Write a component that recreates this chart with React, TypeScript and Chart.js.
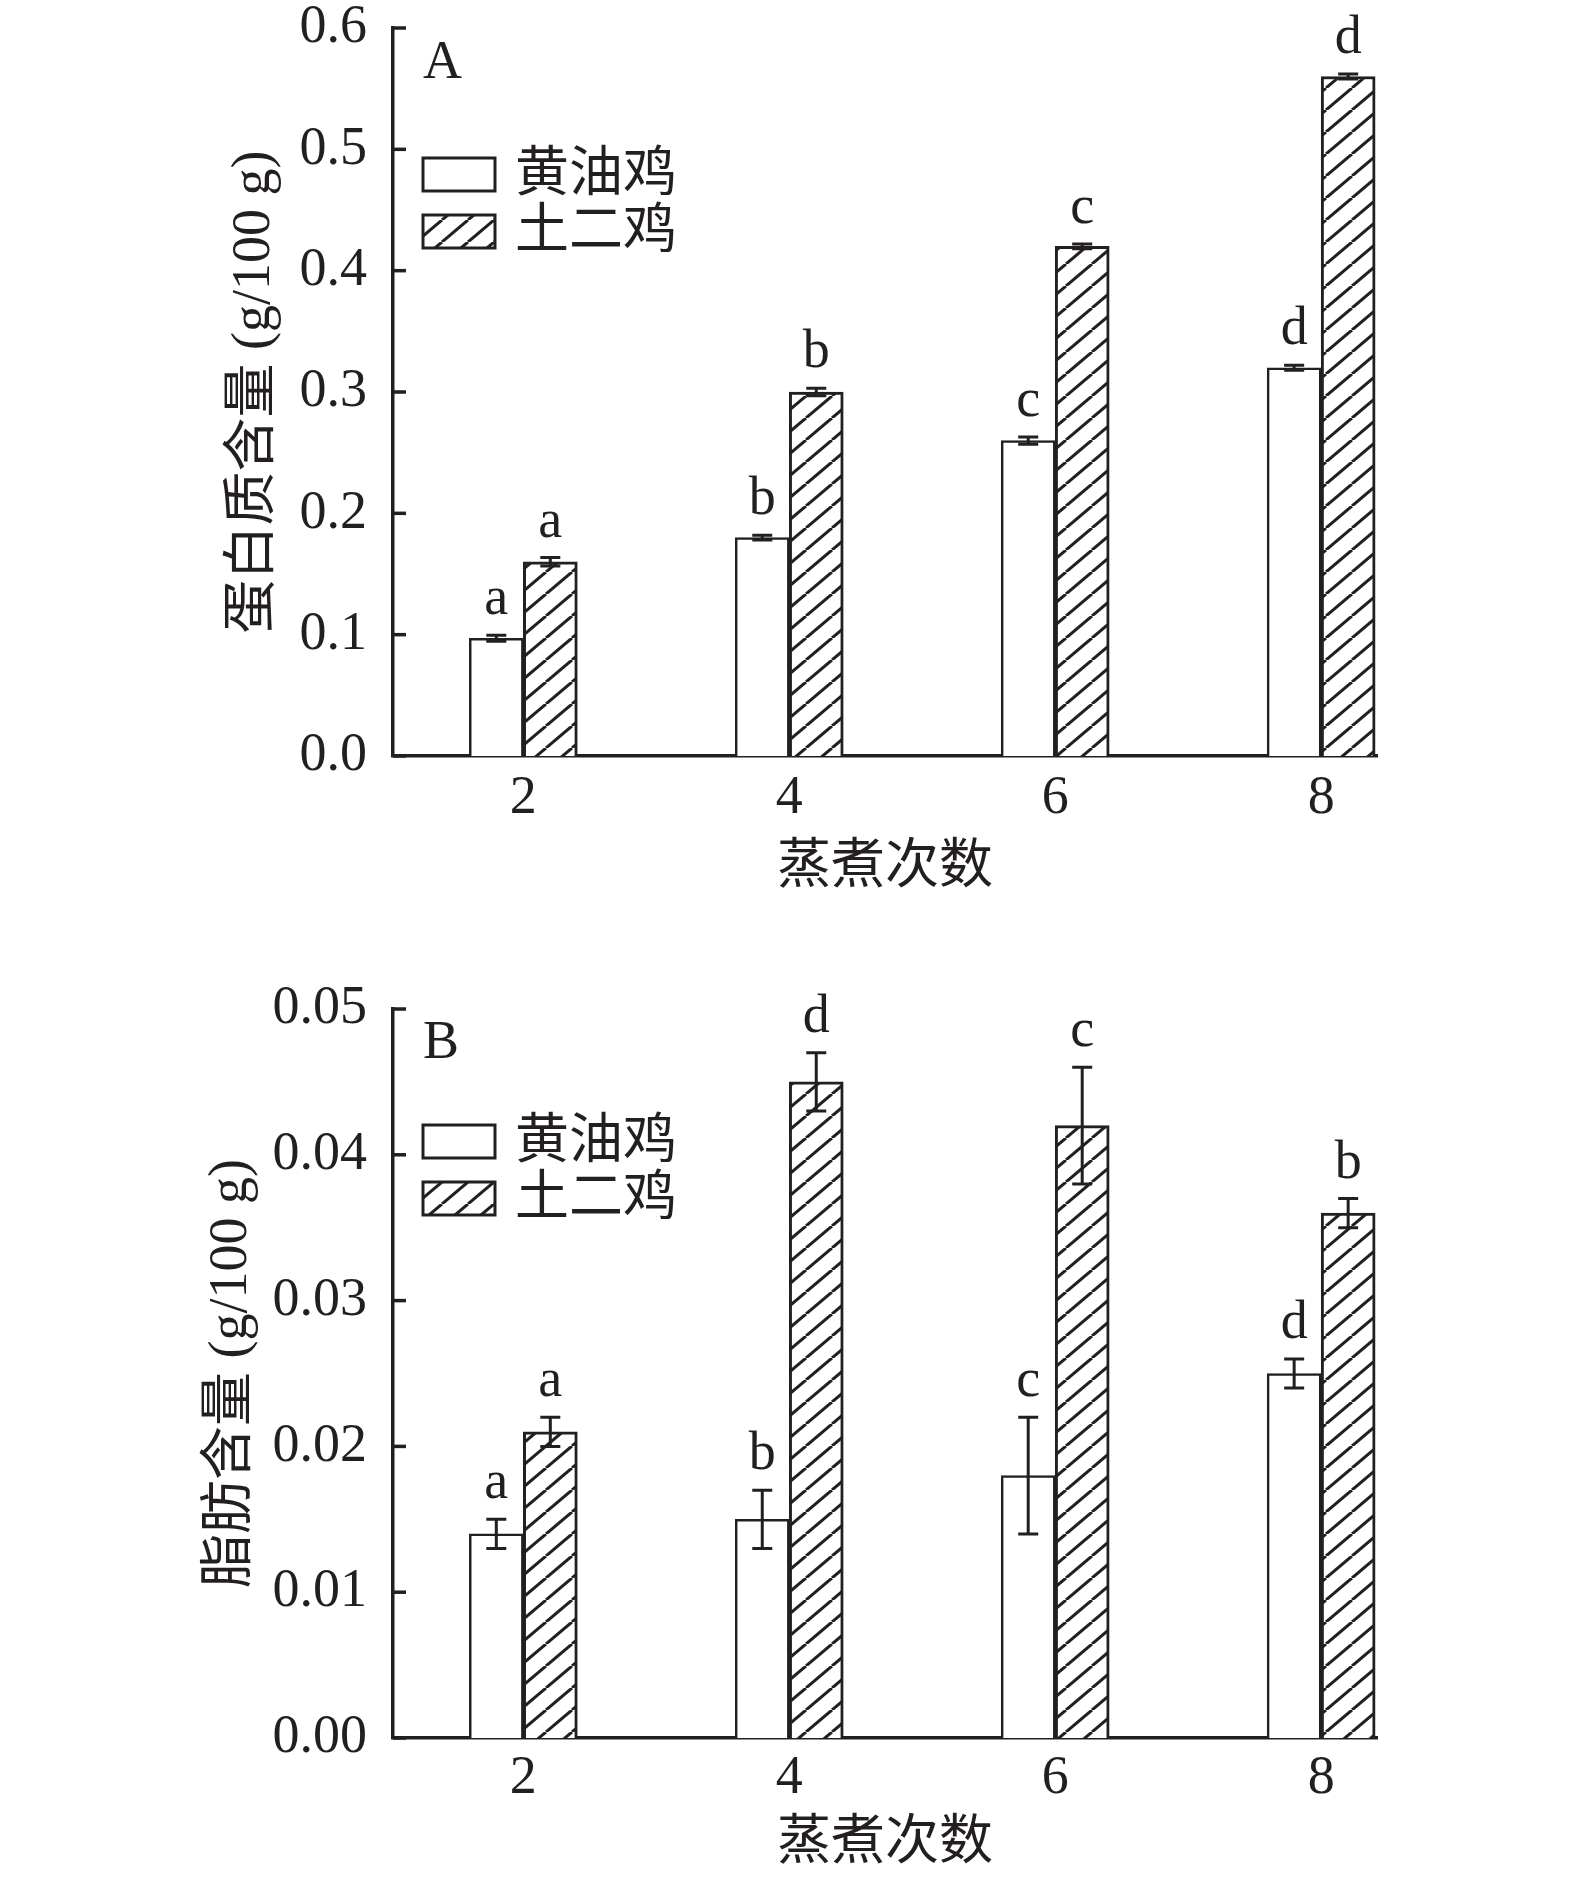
import React, { useEffect, useRef } from 'react';
import { Chart, registerables } from 'chart.js';

Chart.register(...registerables);

// ---------------- data ----------------
const categories = [2, 4, 6, 8];
const seriesNames = ['黄油鸡', '土二鸡'];

const proteinYellow = [0.097, 0.18, 0.26, 0.32];
const proteinYellowErr = [0.0025, 0.002, 0.003, 0.002];
const proteinTuer = [0.16, 0.3, 0.42, 0.56];
const proteinTuerErr = [0.0035, 0.003, 0.002, 0.002];
const proteinYellowLetters = ['a', 'b', 'c', 'd'];
const proteinTuerLetters = ['a', 'b', 'c', 'd'];
const proteinTicks = [0, 0.1, 0.2, 0.3, 0.4, 0.5, 0.6];

const fatYellow = [0.014, 0.015, 0.018, 0.025];
const fatYellowErr = [0.001, 0.002, 0.004, 0.001];
const fatTuer = [0.021, 0.045, 0.042, 0.036];
const fatTuerErr = [0.001, 0.002, 0.004, 0.001];
const fatYellowLetters = ['a', 'b', 'c', 'd'];
const fatTuerLetters = ['a', 'd', 'c', 'b'];
const fatTicks = [0, 0.01, 0.02, 0.03, 0.04, 0.05];

const xTitle = '蒸煮次数';
const proteinTitle = '蛋白质含量 (g/100 g)';
const fatTitle = '脂肪含量 (g/100 g)';

// ---------------- style ----------------
const INK = '#231f20';
const FAMILY = '"Liberation Serif", "Noto Sans CJK SC", serif';
const FS = 54;
const FONT = `${FS}px ${FAMILY}`;
const W = 1575;
const H = 940;

function makeHatch(): CanvasPattern | string {
  const w = 26, h = 22;
  const c = document.createElement('canvas');
  c.width = w;
  c.height = h;
  const g = c.getContext('2d');
  if (!g) return '#fff';
  g.fillStyle = '#fff';
  g.fillRect(0, 0, w, h);
  g.strokeStyle = INK;
  g.lineWidth = 3;
  for (const dx of [-w, 0, w]) {
    g.beginPath();
    g.moveTo(dx, h);
    g.lineTo(dx + w, 0);
    g.stroke();
  }
  return g.createPattern(c, 'repeat') || '#fff';
}

const overlayPlugin = {
  id: 'overlay',
  afterDatasetsDraw(chart: any, _args: any, opts: any) {
    const { ctx, chartArea, scales } = chart;
    const y = scales.y;
    ctx.save();
    ctx.strokeStyle = INK;
    ctx.fillStyle = INK;
    // inward ticks on y axis
    ctx.lineWidth = 3.5;
    y.ticks.forEach((t: any) => {
      const py = y.getPixelForValue(t.value);
      ctx.beginPath();
      ctx.moveTo(chartArea.left, py);
      ctx.lineTo(chartArea.left + 13, py);
      ctx.stroke();
    });
    // error bars and letters
    chart.data.datasets.forEach((ds: any, di: number) => {
      const meta = chart.getDatasetMeta(di);
      const errs: number[] = opts.errors[di];
      const letters: string[] = opts.letters[di];
      meta.data.forEach((bar: any, j: number) => {
        const v = ds.data[j].y;
        const e = errs[j];
        const x = bar.x;
        const yt = y.getPixelForValue(v + e);
        const yb = y.getPixelForValue(v - e);
        ctx.lineWidth = 3;
        ctx.beginPath();
        ctx.moveTo(x, yt);
        ctx.lineTo(x, yb);
        ctx.moveTo(x - 10, yt);
        ctx.lineTo(x + 10, yt);
        ctx.moveTo(x - 10, yb);
        ctx.lineTo(x + 10, yb);
        ctx.stroke();
        ctx.font = FONT;
        ctx.textAlign = 'center';
        ctx.textBaseline = 'alphabetic';
        ctx.fillText(letters[j], x, yt - 21);
      });
    });
    // panel letter
    ctx.font = FONT;
    ctx.textAlign = 'left';
    ctx.textBaseline = 'alphabetic';
    ctx.fillText(opts.panel, chartArea.left + 30, chartArea.top + opts.panelBase);
    // legend
    const bx = chartArea.left + 30;
    const bw = 72, bh = 33;
    chart.data.datasets.forEach((ds: any, di: number) => {
      const by = chartArea.top + opts.legendTop + di * 57;
      ctx.fillStyle = ds.backgroundColor;
      ctx.fillRect(bx, by, bw, bh);
      ctx.lineWidth = 3;
      ctx.strokeStyle = INK;
      ctx.strokeRect(bx, by, bw, bh);
      ctx.fillStyle = INK;
      ctx.font = FONT;
      ctx.textAlign = 'left';
      ctx.textBaseline = 'middle';
      ctx.fillText(ds.label, bx + bw + 20, by + bh / 2 + 2);
    });
    ctx.restore();
  },
};

interface PanelProps {
  yellow: number[];
  tuer: number[];
  yellowErr: number[];
  tuerErr: number[];
  yellowLetters: string[];
  tuerLetters: string[];
  yTicks: number[];
  decimals: number;
  yTitle: string;
  panel: string;
  padTop: number;
  xScaleHeight: number;
  xTitlePad: number;
  yTitlePad: number;
  xLabelPad: number;
  legendTop: number;
  panelBase: number;
}

function Panel(p: PanelProps) {
  const ref = useRef<HTMLCanvasElement | null>(null);
  useEffect(() => {
    const canvas = ref.current;
    if (!canvas) return;
    const hatch = makeHatch();
    const chart = new Chart(canvas, {
      type: 'bar',
      data: {
        datasets: [
          {
            label: seriesNames[0],
            data: categories.map((c, i) => ({ x: c, y: p.yellow[i] })),
            backgroundColor: '#ffffff',
            borderColor: INK,
            borderWidth: 2.5,
            barThickness: 54,
          },
          {
            label: seriesNames[1],
            data: categories.map((c, i) => ({ x: c, y: p.tuer[i] })),
            backgroundColor: hatch as any,
            borderColor: INK,
            borderWidth: 3,
            barThickness: 54,
          },
        ],
      } as any,
      options: {
        animation: false,
        responsive: false,
        maintainAspectRatio: false,
        devicePixelRatio: 1,
        layout: { padding: { top: p.padTop, right: 198, bottom: 0, left: 0 } },
        plugins: {
          legend: { display: false },
          tooltip: { enabled: false },
          overlay: {
            errors: [p.yellowErr, p.tuerErr],
            letters: [p.yellowLetters, p.tuerLetters],
            panel: p.panel,
            legendTop: p.legendTop,
            panelBase: p.panelBase,
          },
        } as any,
        scales: {
          x: {
            type: 'linear',
            min: 1.02,
            max: 8.42,
            offset: false,
            grid: { display: false, drawTicks: false },
            border: { display: true, color: INK, width: 3.5 },
            ticks: {
              color: INK,
              padding: p.xLabelPad,
              font: { family: FAMILY, size: FS, lineHeight: 1 },
              callback: (v: any) => String(v),
            },
            afterBuildTicks: (s: any) => {
              s.ticks = categories.map((v) => ({ value: v }));
            },
            afterFit: (s: any) => {
              s.height = p.xScaleHeight;
              s.paddingLeft = 0;
              s.paddingRight = 0;
            },
            title: {
              display: true,
              text: xTitle,
              color: INK,
              font: { family: FAMILY, size: FS, lineHeight: 1 },
              padding: { top: 0, bottom: p.xTitlePad },
            },
          },
          y: {
            type: 'linear',
            min: p.yTicks[0],
            max: p.yTicks[p.yTicks.length - 1],
            grid: { display: false, drawTicks: false },
            border: { display: true, color: INK, width: 3.5 },
            ticks: {
              color: INK,
              padding: 26,
              font: { family: FAMILY, size: FS, lineHeight: 1 },
              callback: (v: any) => Number(v).toFixed(p.decimals),
            },
            afterBuildTicks: (s: any) => {
              s.ticks = p.yTicks.map((v) => ({ value: v }));
            },
            afterFit: (s: any) => {
              s.width = 393;
              s.paddingTop = 0;
              s.paddingBottom = 0;
            },
            title: {
              display: true,
              text: p.yTitle,
              color: INK,
              font: { family: FAMILY, size: FS, lineHeight: 1 },
              padding: { top: p.yTitlePad, bottom: 0 },
            },
          },
        } as any,
      },
      plugins: [overlayPlugin as any],
    });
    return () => chart.destroy();
  }, []);
  return <canvas ref={ref} width={W} height={H} style={{ display: 'block', width: W, height: H }} />;
}

export default function App() {
  return (
    <div style={{ position: 'absolute', left: 0, top: 0, width: W, height: 2 * H, background: '#fff' }}>
      <Panel
        yellow={proteinYellow}
        tuer={proteinTuer}
        yellowErr={proteinYellowErr}
        tuerErr={proteinTuerErr}
        yellowLetters={proteinYellowLetters}
        tuerLetters={proteinTuerLetters}
        yTicks={proteinTicks}
        decimals={1}
        yTitle={proteinTitle}
        panel="A"
        padTop={28}
        xScaleHeight={184}
        xTitlePad={44}
        yTitlePad={228}
        xLabelPad={16}
        legendTop={130}
        panelBase={50}
      />
      <Panel
        yellow={fatYellow}
        tuer={fatTuer}
        yellowErr={fatYellowErr}
        tuerErr={fatTuerErr}
        yellowLetters={fatYellowLetters}
        tuerLetters={fatTuerLetters}
        yTicks={fatTicks}
        decimals={2}
        yTitle={fatTitle}
        panel="B"
        padTop={69}
        xScaleHeight={142}
        xTitlePad={8}
        yTitlePad={205}
        xLabelPad={14}
        legendTop={116}
        panelBase={49}
      />
    </div>
  );
}
